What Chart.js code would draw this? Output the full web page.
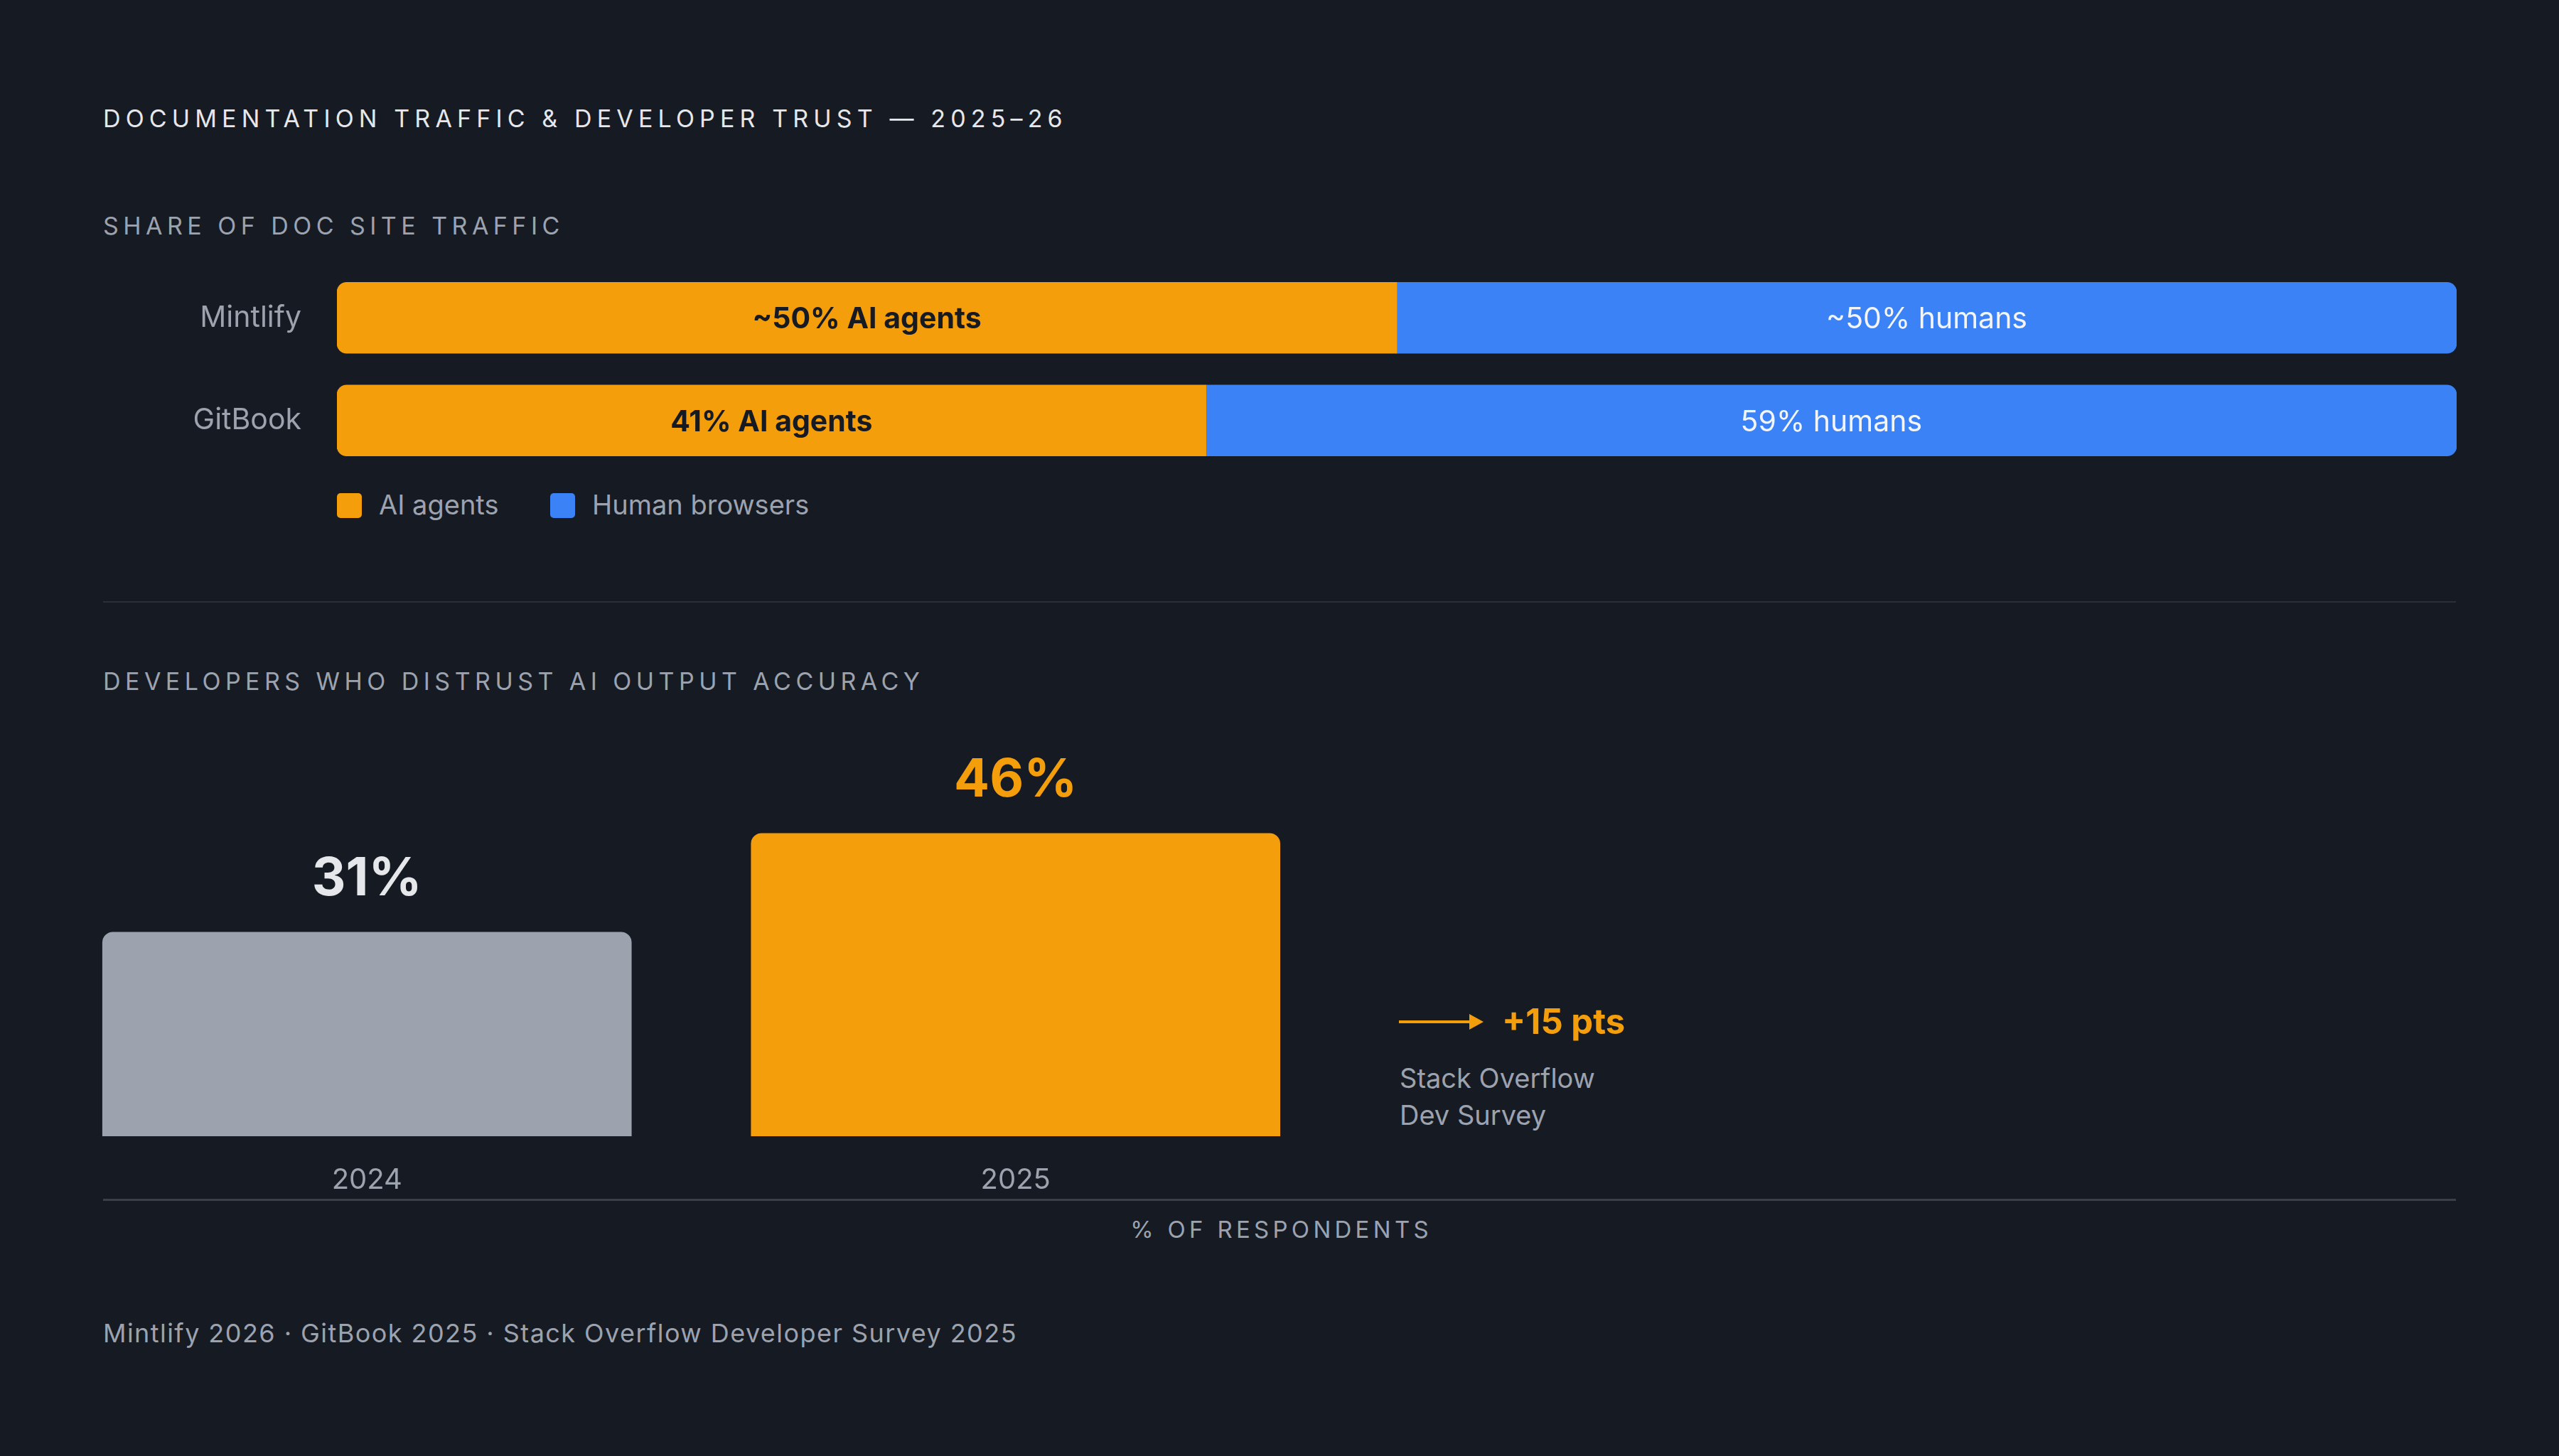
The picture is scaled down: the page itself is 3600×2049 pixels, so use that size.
<!DOCTYPE html>
<html>
<head>
<meta charset="utf-8">
<title>Documentation traffic &amp; developer trust</title>
<script src="https://cdn.jsdelivr.net/npm/chart.js@4.4.1/dist/chart.umd.min.js"></script>
<style>
  html, body { margin: 0; padding: 0; background: #161a22; }
  body { width: 3600px; height: 2049px; position: relative; overflow: hidden; font-family: Inter, "Noto Sans", sans-serif; }
  .txt { position: absolute; white-space: nowrap; line-height: 1.2; }
  .caps { text-transform: uppercase; }
  .box { position: absolute; }
  #title { left: 145px; top: 147px; font-size: 34px; letter-spacing: 0.21em; color: #e5e7eb; }
  #sec1 { left: 145px; top: 298px; font-size: 34px; letter-spacing: 0.19em; color: #9ca3af; }
  #sec2 { left: 145px; top: 939px; font-size: 34px; letter-spacing: 0.19em; color: #9ca3af; }
  #trafficBox { left: 100px; top: 375px; width: 3356px; height: 289px; }
  #legend { position: absolute; left: 474px; top: 694px; height: 35px; }
  .lg-item { position: absolute; top: 0; height: 35px; }
  .lg-sw { position: absolute; left: 0; top: 0; width: 35px; height: 35px; border-radius: 5px; }
  .lg-tx { position: absolute; left: 59px; top: -6px; font-size: 38px; line-height: 1.2; color: #9ca3af; white-space: nowrap; }
  #divider { left: 145px; top: 846px; width: 3310px; height: 2px; background: #2a2f3a; }
  #trustBox { left: 60px; top: 1043px; width: 1825px; height: 656px; }
  #axisLine { left: 145px; top: 1687px; width: 3310px; height: 3px; background: #3a3f4a; }
  #respTitle { left: 145px; width: 3310px; top: 1711px; font-size: 33px; letter-spacing: 0.16em; color: #9ca3af; text-align: center; padding-left: 0.16em; box-sizing: border-box; }
  #arrowLine { left: 1968px; top: 1436px; width: 100px; height: 4px; background: #f59e0b; }
  #arrowHead { left: 2067px; top: 1427px; width: 0; height: 0; border-left: 20px solid #f59e0b; border-top: 11px solid transparent; border-bottom: 11px solid transparent; }
  #delta { left: 2113px; top: 1409px; font-size: 49px; font-weight: 700; color: #f59e0b; }
  #source { left: 1969px; top: 1491px; font-size: 38px; line-height: 52px; color: #9ca3af; white-space: pre; }
  #footer { left: 145px; top: 1855px; font-size: 36px; letter-spacing: 0.04em; color: #9ca3af; }
</style>
</head>
<body>
<div id="title" class="txt caps">Documentation traffic &amp; developer trust — 2025–26</div>
<div id="sec1" class="txt caps">Share of doc site traffic</div>
<div id="trafficBox" class="box"><canvas id="trafficChart"></canvas></div>
<div id="legend"></div>
<div id="divider" class="box"></div>
<div id="sec2" class="txt caps">Developers who distrust AI output accuracy</div>
<div id="trustBox" class="box"><canvas id="trustChart"></canvas></div>
<div id="axisLine" class="box"></div>
<div id="respTitle" class="txt caps">% of respondents</div>
<div id="arrowLine" class="box"></div>
<div id="arrowHead" class="box"></div>
<div id="delta" class="txt"></div>
<div id="source" class="txt">Stack Overflow
Dev Survey</div>
<div id="footer" class="txt">Mintlify 2026 · GitBook 2025 · Stack Overflow Developer Survey 2025</div>

<script>
// share of doc site traffic
const platforms = ['Mintlify', 'GitBook'];
const aiShare = [50, 41];
const humanShare = [50, 59];
const aiLabels = ['~50% AI agents', '41% AI agents'];
const humanLabels = ['~50% humans', '59% humans'];
const seriesNames = ['AI agents', 'Human browsers'];

// developers who distrust AI output accuracy
const surveyYears = ['2024', '2025'];
const distrustPct = [31, 46];

const ORANGE = '#f59e0b';
const BLUE = '#3b82f6';
const GRAY = '#9ca3af';
const MUTED = '#9ca3af';
const LIGHT = '#e5e7eb';
const DARK = '#161a22';

Chart.defaults.font.family = 'Inter, "Noto Sans", sans-serif';
Chart.defaults.animation = false;

// text centred inside each stacked segment
const segmentText = {
    id: 'segmentText',
    afterDatasetsDraw(chart) {
        const ctx = chart.ctx;
        ctx.save();
        ctx.textAlign = 'center';
        ctx.textBaseline = 'alphabetic';
        chart.data.datasets.forEach((ds, i) => {
            chart.getDatasetMeta(i).data.forEach((bar, j) => {
                const {x, y, base} = bar.getProps(['x', 'y', 'base'], true);
                ctx.font = ds.labelFont;
                ctx.fillStyle = ds.labelColor;
                ctx.fillText(ds.segmentLabels[j], (x + base) / 2, y + 0.364 * ds.labelSize);
            });
        });
        ctx.restore();
    }
};

// big value above each column
const valueText = {
    id: 'valueText',
    afterDatasetsDraw(chart) {
        const ctx = chart.ctx;
        const ds = chart.data.datasets[0];
        ctx.save();
        ctx.textAlign = 'center';
        ctx.textBaseline = 'alphabetic';
        ctx.font = '700 74px Inter, "Noto Sans", sans-serif';
        chart.getDatasetMeta(0).data.forEach((bar, j) => {
            ctx.fillStyle = ds.valueColors[j];
            ctx.fillText(ds.data[j] + '%', bar.x, bar.y - 52);
        });
        ctx.restore();
    }
};

new Chart(document.getElementById('trafficChart'), {
    type: 'bar',
    data: {
        labels: platforms,
        datasets: [{
            label: seriesNames[0],
            data: aiShare,
            backgroundColor: ORANGE,
            borderSkipped: false,
            borderRadius: { topLeft: 14, bottomLeft: 14, topRight: 0, bottomRight: 0 },
            segmentLabels: aiLabels,
            labelSize: 41,
            labelFont: '700 41px Inter, "Noto Sans", sans-serif',
            labelColor: DARK
        }, {
            label: seriesNames[1],
            data: humanShare,
            backgroundColor: BLUE,
            borderSkipped: false,
            borderRadius: { topLeft: 0, bottomLeft: 0, topRight: 14, bottomRight: 14 },
            segmentLabels: humanLabels,
            labelSize: 41,
            labelFont: '400 41px Inter, "Noto Sans", sans-serif',
            labelColor: '#f3f4f6'
        }]
    },
    options: {
        indexAxis: 'y',
        responsive: true,
        maintainAspectRatio: false,
        devicePixelRatio: 1,
        layout: { padding: 0, autoPadding: false },
        datasets: { bar: { barThickness: 100 } },
        plugins: { legend: { display: false }, tooltip: { enabled: false } },
        scales: {
            x: { stacked: true, min: 0, max: 100, display: false },
            y: {
                stacked: true,
                grid: { display: false, drawTicks: false },
                border: { display: false },
                ticks: { color: MUTED, font: { size: 41 }, padding: 50 },
                afterFit: s => {
                    s.width = 374;
                    s.paddingTop = 0;
                    s.paddingBottom = 0;
                }
            }
        }
    },
    plugins: [segmentText]
});

// legend built from the series names and colours
const legend = document.getElementById('legend');
[[seriesNames[0], ORANGE, 0], [seriesNames[1], BLUE, 300]].forEach(([name, color, left]) => {
    const item = document.createElement('div');
    item.className = 'lg-item';
    item.style.left = left + 'px';
    item.innerHTML = '<div class="lg-sw" style="background:' + color + '"></div><div class="lg-tx">' + name + '</div>';
    legend.appendChild(item);
});

new Chart(document.getElementById('trustChart'), {
    type: 'bar',
    data: {
        labels: surveyYears,
        datasets: [{
            data: distrustPct,
            backgroundColor: [GRAY, ORANGE],
            valueColors: [LIGHT, ORANGE],
            borderRadius: 15,
            borderSkipped: 'start',
            barThickness: 744
        }]
    },
    options: {
        responsive: true,
        maintainAspectRatio: false,
        devicePixelRatio: 1,
        layout: { padding: 0, autoPadding: false },
        plugins: { legend: { display: false }, tooltip: { enabled: false } },
        scales: {
            x: {
                grid: { display: false, drawTicks: false },
                border: { display: false },
                ticks: { color: MUTED, font: { size: 40 }, padding: 38 },
                afterFit: s => { s.height = 100; }
            },
            y: { display: false, min: 0, max: 60 }
        }
    },
    plugins: [valueText]
});

document.getElementById('delta').textContent = '+' + (distrustPct[1] - distrustPct[0]) + ' pts';
</script>
</body>
</html>
